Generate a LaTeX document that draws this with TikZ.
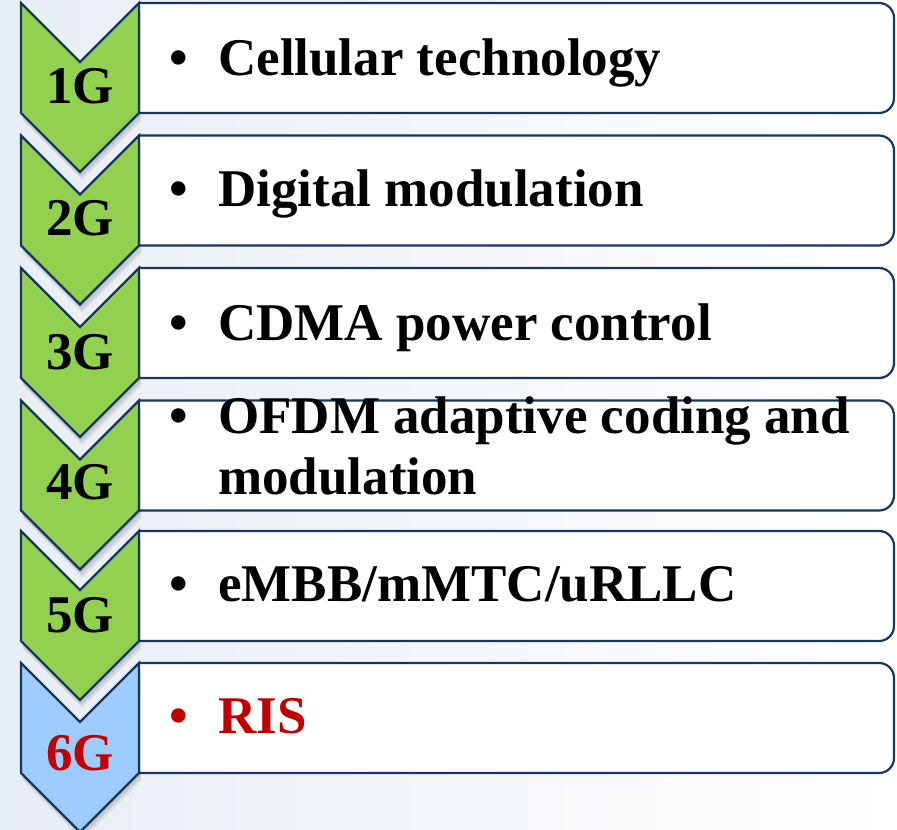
\documentclass[tikz,border=0pt]{standalone}
\usepackage{fontspec}
\setmainfont{Liberation Serif}
\definecolor{navy}{RGB}{23,55,94}
\definecolor{chgreen}{RGB}{146,208,80}
\definecolor{chblue}{RGB}{157,203,251}
\definecolor{risred}{RGB}{192,0,0}
\definecolor{bgl}{RGB}{232,238,245}
\begin{document}
\begin{tikzpicture}[x=1pt,y=-1pt,
  boxshape/.style={draw=navy,line width=2.2pt,fill=white,rounded corners=15pt},
  chevron/.style={draw=navy,line width=2.2pt,line join=miter},
  chshadow/.style={fill=black,fill opacity=0.06,draw=none},
  gen/.style={inner sep=0pt,anchor=base,font=\fontsize{53}{61}\selectfont\bfseries},
  item/.style={inner sep=0pt,anchor=base west,font=\fontsize{53}{61}\selectfont\bfseries},
  bul/.style={inner sep=0pt,anchor=base,font=\fontsize{53}{61}\selectfont\bfseries}]
\useasboundingbox (0,0) rectangle (897,830);
\shade[left color=bgl,right color=white] (0,0) rectangle (897,830);
% boxes
\foreach \t in {3,135.5,268,400.5,531,663}{
  \filldraw[boxshape] (139,\t) -- (894,\t) -- (894,\t+110) -- (139,\t+110);
}
% chevrons with soft shadows
\foreach \t/\c in {3/chgreen,135.5/chgreen,268/chgreen,400.5/chgreen,531/chgreen,663/chblue}{
  \foreach \s in {2,4,6,8}{
    \fill[chshadow,shift={(0.3*\s,\s)}] (21,\t) -- (80,\t+59) -- (139,\t) -- (139,\t+110) -- (80,\t+169) -- (21,\t+110) -- cycle;
  }
  \filldraw[chevron,fill=\c] (21,\t) -- (80,\t+59) -- (139,\t) -- (139,\t+110) -- (80,\t+169) -- (21,\t+110) -- cycle;
}
% generation labels
\node[gen] (g1) at (80,103) {1G};
\node[gen] (g2) at (80,235.5) {2G};
\node[gen] (g3) at (80,369) {3G};
\node[gen] (g4) at (80,499.5) {4G};
\node[gen] (g5) at (80,632) {5G};
\node[gen,text=risred] (g6) at (80,770) {6G};
% bullets
\node[bul] (b1) at (179,75) {•};
\node[bul] (b2) at (179,206.5) {•};
\node[bul] (b3) at (179,340) {•};
\node[bul] (b4) at (179,433) {•};
\node[bul] (b5) at (179,601) {•};
\node[bul,text=risred] (b6) at (179,733) {•};
% items
\node[item] (t1) at (218,75) {Cellular technology};
\node[item] (t2) at (218,206.5) {Digital modulation};
\node[item] (t3) at (218,340) {CDMA power control};
\node[item] (t4a) at (218,433) {OFDM adaptive coding and};
\node[item] (t4b) at (218,494) {modulation};
\node[item] (t5) at (218,601) {eMBB/mMTC/uRLLC};
\node[item,text=risred] (t6) at (218,733) {RIS};
\end{tikzpicture}
\end{document}
